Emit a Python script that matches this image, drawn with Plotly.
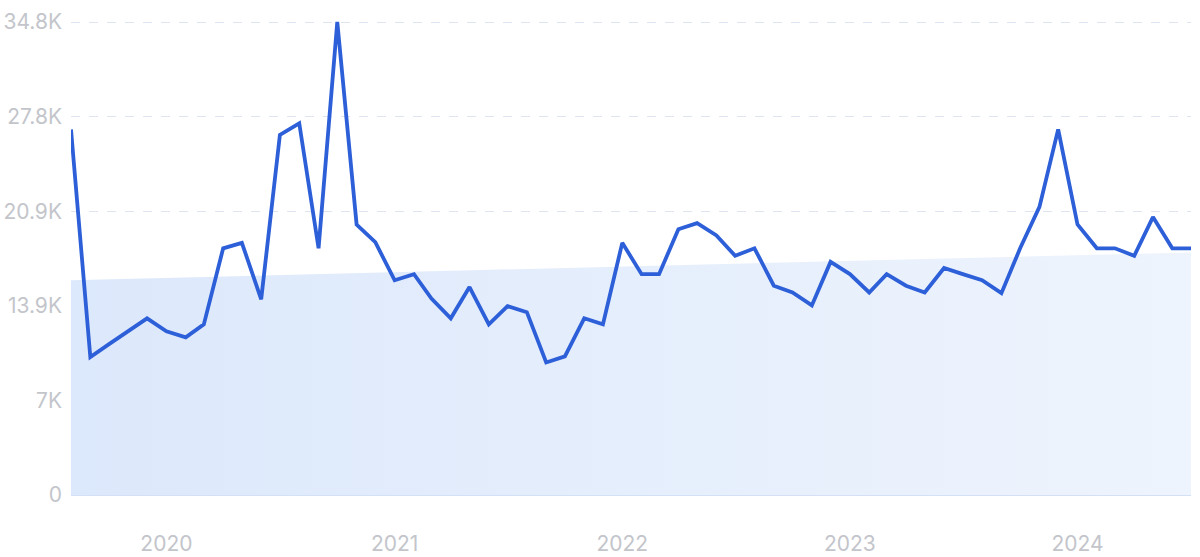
import pandas as pd
import plotly.graph_objects as go

# ---- data ----
start_month = "2019-08-01"
n_months = 60
values = [26900, 10150, 11100, 12050, 13000, 12050, 11600, 12550, 18150, 18550,
          14400, 26500, 27350, 18150, 34800, 19900, 18600, 15800, 16250, 14450,
          13000, 15300, 12550, 13900, 13450, 9750, 10200, 13000, 12550, 18550,
          16250, 16250, 19550, 20000, 19100, 17600, 18150, 15400, 14900, 13950,
          17150, 16250, 14900, 16250, 15400, 14900, 16700, 16250, 15800, 14850,
          18150, 21200, 26900, 19900, 18150, 18150, 17600, 20450, 18150, 18150]
trend_values = [15800, 17850]
y_tickvals = [0, 6960, 13920, 20880, 27840, 34800]
y_ticktext = ["0", "7K", "13.9K", "20.9K", "27.8K", "34.8K"]
x_tickvals = ["2020-01-01", "2021-01-01", "2022-01-01", "2023-01-01", "2024-01-01"]
x_ticktext = ["2020", "2021", "2022", "2023", "2024"]

dates = pd.date_range(start_month, periods=n_months, freq="MS")
trend_dates = [dates[0], dates[-1]]

fig = go.Figure()
fig.add_trace(go.Scatter(
    x=trend_dates, y=trend_values, mode="lines",
    line=dict(width=0, color="rgba(0,0,0,0)"),
    fill="tozeroy",
    fillgradient=dict(type="horizontal",
                      colorscale=[[0, "#dce8fb"], [1, "#eef4fd"]]),
    hoverinfo="skip", showlegend=False,
))
fig.add_trace(go.Scatter(
    x=dates, y=values, mode="lines",
    line=dict(color="#2d5fd8", width=3.8),
    cliponaxis=False, showlegend=False,
))

font_color = "#c3c5cb"
fig.update_layout(
    width=1200, height=557,
    margin=dict(l=71, r=9, t=21, b=62),
    paper_bgcolor="white", plot_bgcolor="white",
    font=dict(family="Inter, Lato, sans-serif", size=21, color=font_color),
    xaxis=dict(
        range=[dates[0], dates[-1]],
        tickvals=x_tickvals, ticktext=x_ticktext,
        showgrid=False, zeroline=False, automargin=False,
        showline=True, linecolor="#d3e0f6", linewidth=1,
        ticks="", ticklabelstandoff=30,
    ),
    yaxis=dict(
        range=[0, 34874],
        tickvals=y_tickvals, ticktext=y_ticktext,
        showgrid=True, gridcolor="#dfe5f0", griddash="dash", gridwidth=1,
        zeroline=False, showline=False, ticks="", ticklabelstandoff=8,
        automargin=False,
    ),
)

fig.write_html(
    "out.html",
    config={"displayModeBar": False},
    post_script="document.body.style.margin='0';document.body.style.overflow='hidden';",
)
